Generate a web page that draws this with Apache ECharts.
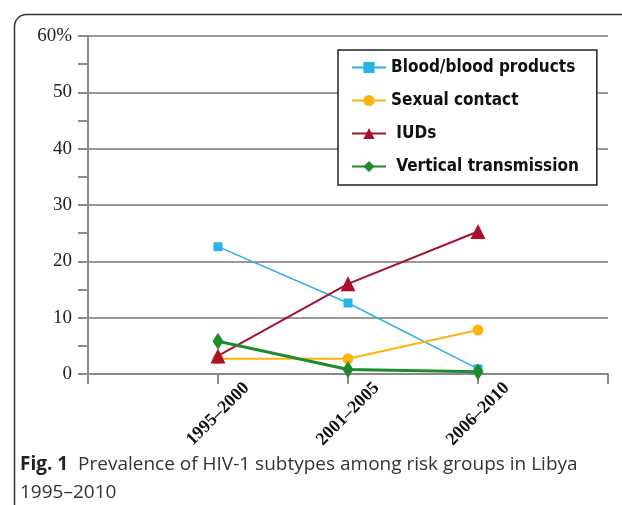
<!DOCTYPE html>
<html><head><meta charset="utf-8">
<script src="https://cdn.jsdelivr.net/npm/echarts@6/dist/echarts.min.js"></script>
<style>html,body{margin:0;padding:0;background:#fff}#c{width:622px;height:505px}</style>
</head><body><div id="c"></div>
<script>
const categories = ['1995–2000', '2001–2005', '2006–2010'];
const bloodProducts = [22.6, 12.6, 0.9];
const sexualContact = [2.7, 2.7, 7.8];
const iuds = [3.2, 16.0, 25.3];
const verticalTransmission = [5.8, 0.8, 0.4];
const yTicks = [0, 10, 20, 30, 40, 50, 60];

const pad = a => [null, ...a, null];
const chart = echarts.init(document.getElementById('c'));
const axisGrey = '#8a8a8a';
chart.setOption({
  animation: false,
  grid: {left: 88, right: 14, top: 36, bottom: 131, containLabel: false},
  xAxis: {
    type: 'category', boundaryGap: false,
    data: ['', ...categories, ''],
    axisLine: {lineStyle: {color: axisGrey, width: 2}},
    axisTick: {show: true, interval: 0, length: 10, lineStyle: {color: axisGrey, width: 2}},
    axisLabel: {interval: 0, rotate: 45, margin: 40, align: 'center', verticalAlign: 'middle',
      color: '#111', fontFamily: 'Liberation Serif', fontSize: 18, fontWeight: 'bold'},
    splitLine: {show: false}
  },
  yAxis: {
    type: 'value', min: yTicks[0], max: yTicks[yTicks.length - 1], interval: 10,
    axisLine: {show: true, lineStyle: {color: axisGrey, width: 2}},
    axisTick: {show: true, length: 10, lineStyle: {color: axisGrey, width: 2}},
    minorTick: {show: true, splitNumber: 2, length: 10, lineStyle: {color: axisGrey, width: 2}},
    axisLabel: {margin: 16, color: '#222', fontFamily: 'Liberation Serif', fontSize: 19,
      formatter: v => v === 60 ? '60%' : String(v)},
    splitLine: {show: true, lineStyle: {color: '#999', width: 2}}
  },
  legend: {
    orient: 'vertical', left: 338, top: 50,
    padding: [9, 18, 10, 13], itemGap: 16, itemWidth: 34, itemHeight: 14,
    backgroundColor: '#fff', borderColor: '#222', borderWidth: 1.5,
    textStyle: {fontFamily: 'DejaVu Sans Condensed', fontWeight: 'bold', fontSize: 17, lineHeight: 17, color: '#111'},
    formatter: n => (n === 'IUDs' || n === 'Vertical transmission') ? ' ' + n : n,
    data: ['Blood/blood products', 'Sexual contact', 'IUDs', 'Vertical transmission']
  },
  series: [
    {name: 'Blood/blood products', type: 'line', data: pad(bloodProducts), symbol: 'rect', symbolSize: 9,
      lineStyle: {color: '#2BB0E8', width: 1.5}, itemStyle: {color: '#2BB0E8'}},
    {name: 'Sexual contact', type: 'line', data: pad(sexualContact), symbol: 'circle', symbolSize: 11,
      lineStyle: {color: '#FFB30F', width: 2}, itemStyle: {color: '#FFB30F'}},
    {name: 'IUDs', type: 'line', data: pad(iuds), symbol: 'triangle', symbolSize: 15,
      lineStyle: {color: '#A8102E', width: 2}, itemStyle: {color: '#A8102E'}},
    {name: 'Vertical transmission', type: 'line', data: pad(verticalTransmission), symbol: 'diamond', symbolSize: [11, 17],
      lineStyle: {color: '#1E8C2E', width: 3}, itemStyle: {color: '#1E8C2E'}}
  ],
  graphic: [
    {type: 'rect', left: 12, top: 12, shape: {width: 700, height: 600, r: [12, 0, 0, 0]},
      style: {fill: 'none', stroke: '#333', lineWidth: 1.5}, silent: true, z: -1},
    {type: 'text', left: 20, top: 455, style: {
      rich: {b: {fontWeight: 'bold', fontFamily: 'Open Sans', fontSize: 19, fill: '#222', lineHeight: 28},
             n: {fontFamily: 'Open Sans', fontSize: 19, fill: '#333', lineHeight: 28}},
      text: '{b|Fig. 1}{n|  Prevalence of HIV-1 subtypes among risk groups in Libya}\n{n|1995–2010}'
    }}
  ]
});
</script></body></html>
